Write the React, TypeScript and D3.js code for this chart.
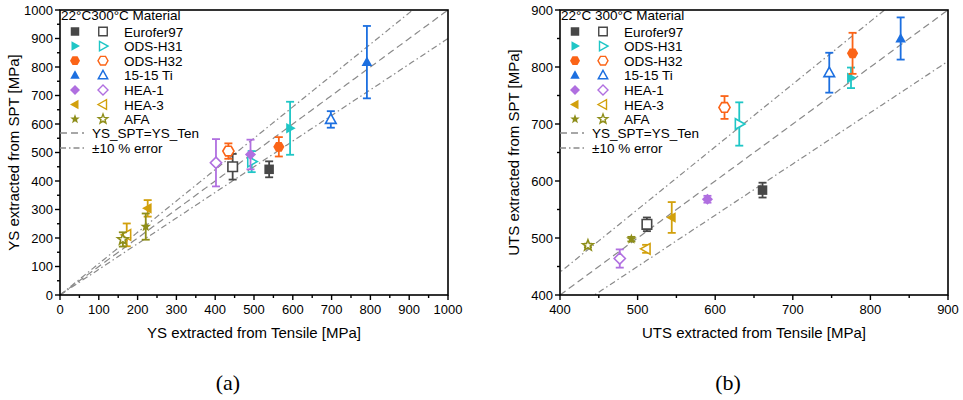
import React from "react";
import * as d3 from "d3";

const materials = ["Eurofer97", "ODS-H31", "ODS-H32", "15-15 Ti", "HEA-1", "HEA-3", "AFA"];
const colors = ["#474747", "#1fc6c6", "#fb6417", "#1c6fe0", "#b06fe0", "#d2a00c", "#8e8e1a"];
const shapes = ["square", "right", "hex", "up", "diamond", "left", "star"];

// YS panel (a)
const ysTen22 = [539, 593, 564, 791, 491, 226, 221];
const ysSpt22 = [441, 585, 520, 817, 493, 304, 240];
const ysErr22 = [28, 93, 34, 127, 52, 29, 46];
const ysTen300 = [445, 494, 434, 698, 402, 172, 162];
const ysSpt300 = [450, 468, 505, 616, 464, 211, 195];
const ysErr300 = [45, 37, 27, 29, 83, 40, 25];

// UTS panel (b)
const utsTen22 = [661, 775, 777, 839, 590, 544, 492];
const utsSpt22 = [584, 781, 824, 850, 568, 536, 498];
const utsErr22 = [13, 18, 36, 37, 6, 27, 4];
const utsTen300 = [512, 631, 612, 747, 477, 511, 436];
const utsSpt300 = [524, 700, 729, 790, 464, 481, 487];
const utsErr300 = [12, 38, 20, 35, 16, 7, 3];

const ysTicks = d3.range(0, 1001, 100);
const utsTicks = d3.range(400, 901, 100);

const font = "'Liberation Sans', Arial, sans-serif";

function markerPath(shape: string, r: number) {
  const pts = (arr: number[][]) => "M" + arr.map((p) => p.join(",")).join("L") + "Z";
  switch (shape) {
    case "square": {
      const s = r * 0.85;
      return pts([[-s, -s], [s, -s], [s, s], [-s, s]]);
    }
    case "up":
      return pts([[0, -r], [r * 0.95, r * 0.7], [-r * 0.95, r * 0.7]]);
    case "right":
      return pts([[r, 0], [-r * 0.7, r * 0.95], [-r * 0.7, -r * 0.95]]);
    case "left":
      return pts([[-r, 0], [r * 0.7, -r * 0.95], [r * 0.7, r * 0.95]]);
    case "diamond":
      return pts([[0, -r], [r, 0], [0, r], [-r, 0]]);
    case "hex":
      return pts(d3.range(6).map((i) => {
        const a = (Math.PI / 3) * i;
        return [r * Math.cos(a), r * Math.sin(a)];
      }));
    case "star":
      return pts(d3.range(10).map((i) => {
        const a = (Math.PI / 5) * i - Math.PI / 2;
        const rr = i % 2 === 0 ? r : r * 0.42;
        return [rr * Math.cos(a), rr * Math.sin(a)];
      }));
  }
  return "";
}

type PanelProps = {
  left: number;
  right: number;
  top: number;
  bottom: number;
  domain: [number, number];
  ticks: number[];
  ten22: number[];
  spt22: number[];
  err22: number[];
  ten300: number[];
  spt300: number[];
  err300: number[];
  xTitle: string;
  yTitle: string;
  header: string;
  caption: string;
  id: string;
};

function Panel(p: PanelProps) {
  const x = d3.scaleLinear(p.domain, [p.left, p.right]);
  const y = d3.scaleLinear(p.domain, [p.bottom, p.top]);
  const minor = d3.range(p.domain[0] + 50, p.domain[1], 100);
  const lineX = d3.range(0, 1001, 5);
  const ref = (k: number) => d3.line<number>().x((v) => x(v)).y((v) => y(v * k))(lineX) || "";
  const clipId = "clip-" + p.id;
  const lx = p.left;

  const points = (ten: number[], spt: number[], err: number[], open: boolean) =>
    materials.map((m, i) => {
      const cx = x(ten[i]);
      const cy = y(spt[i]);
      const y1 = y(spt[i] + err[i]);
      const y2 = y(spt[i] - err[i]);
      return (
        <g key={m + open} stroke={colors[i]} strokeWidth={1.8}>
          <line x1={cx} x2={cx} y1={y1} y2={y2} />
          <line x1={cx - 4} x2={cx + 4} y1={y1} y2={y1} />
          <line x1={cx - 4} x2={cx + 4} y1={y2} y2={y2} />
          <path
            d={markerPath(shapes[i], 5.6)}
            transform={`translate(${cx},${cy})`}
            fill={open ? "#fff" : colors[i]}
            strokeWidth={open ? 1.6 : 0}
          />
        </g>
      );
    });

  return (
    <g>
      <defs>
        <clipPath id={clipId}>
          <rect x={p.left} y={p.top} width={p.right - p.left} height={p.bottom - p.top} />
        </clipPath>
      </defs>
      <g clipPath={`url(#${clipId})`} fill="none" stroke="#8a8a8a" strokeWidth={1.2}>
        <path d={ref(1)} strokeDasharray="7,4" />
        <path d={ref(1.1)} strokeDasharray="6,3,1.5,3" />
        <path d={ref(0.9)} strokeDasharray="6,3,1.5,3" />
      </g>
      {points(p.ten300, p.spt300, p.err300, true)}
      {points(p.ten22, p.spt22, p.err22, false)}

      {/* frame and ticks */}
      <rect x={p.left} y={p.top} width={p.right - p.left} height={p.bottom - p.top} fill="none" stroke="#000" strokeWidth={1.6} />
      <g stroke="#000" strokeWidth={1.4}>
        {p.ticks.map((t) => (
          <g key={"M" + t}>
            <line x1={x(t)} x2={x(t)} y1={p.bottom} y2={p.bottom + 5} />
            <line x1={p.left} x2={p.left - 5} y1={y(t)} y2={y(t)} />
          </g>
        ))}
        {minor.map((t) => (
          <g key={"m" + t}>
            <line x1={x(t)} x2={x(t)} y1={p.bottom} y2={p.bottom + 3} />
            <line x1={p.left} x2={p.left - 3} y1={y(t)} y2={y(t)} />
          </g>
        ))}
      </g>
      <g fontFamily={font} fontSize={13} fill="#000">
        {p.ticks.map((t) => (
          <text key={"x" + t} x={x(t)} y={p.bottom + 19} textAnchor="middle">{t}</text>
        ))}
        {p.ticks.map((t) => (
          <text key={"y" + t} x={p.left - 7} y={y(t) + 4.5} textAnchor="end">{t}</text>
        ))}
      </g>
      <text x={(p.left + p.right) / 2} y={p.bottom + 43} textAnchor="middle" fontFamily={font} fontSize={15}>
        {p.xTitle}
      </text>
      <text
        transform={`translate(${p.left - 41},${(p.top + p.bottom) / 2}) rotate(-90)`}
        textAnchor="middle"
        fontFamily={font}
        fontSize={15}
      >
        {p.yTitle}
      </text>

      {/* legend */}
      <g fontFamily={font} fontSize={13.5}>
        <text x={lx + 1} y={p.top + 10}>{p.header}</text>
        {materials.map((m, i) => {
          const ry = p.top + 21.5 + i * 14.6;
          return (
            <g key={"lg" + m}>
              <path d={markerPath(shapes[i], 5)} transform={`translate(${lx + 15},${ry})`} fill={colors[i]} />
              <path
                d={markerPath(shapes[i], 5)}
                transform={`translate(${lx + 43},${ry})`}
                fill="#fff"
                stroke={colors[i]}
                strokeWidth={1.4}
              />
              <text x={lx + 64} y={ry + 5}>{m}</text>
            </g>
          );
        })}
        <line x1={lx} x2={lx + 24} y1={p.top + 123} y2={p.top + 123} stroke="#8a8a8a" strokeWidth={1.4} strokeDasharray="7,4" />
        <text x={lx + 32} y={p.top + 128}>YS_SPT=YS_Ten</text>
        <line x1={lx} x2={lx + 26} y1={p.top + 138} y2={p.top + 138} stroke="#8a8a8a" strokeWidth={1.4} strokeDasharray="6,3,1.5,3" />
        <text x={lx + 32} y={p.top + 143}>±10 % error</text>
      </g>

      <text
        x={(p.left + p.right) / 2 - 26}
        y={390}
        textAnchor="middle"
        fontFamily="'Liberation Serif', 'Times New Roman', serif"
        fontSize={22}
      >
        {p.caption}
      </text>
    </g>
  );
}

export default function App() {
  return (
    <svg
      width={963}
      height={400}
      viewBox="0 0 963 400"
      style={{ position: "absolute", left: 0, top: 0, background: "#fff" }}
    >
      <rect width={963} height={400} fill="#fff" />
      <Panel
        id="a"
        left={60}
        right={448}
        top={10}
        bottom={295}
        domain={[0, 1000]}
        ticks={ysTicks}
        ten22={ysTen22}
        spt22={ysSpt22}
        err22={ysErr22}
        ten300={ysTen300}
        spt300={ysSpt300}
        err300={ysErr300}
        xTitle="YS extracted from Tensile [MPa]"
        yTitle="YS extracted from SPT [MPa]"
        header="22°C300°C Material"
        caption="(a)"
      />
      <Panel
        id="b"
        left={560}
        right={948}
        top={10}
        bottom={295}
        domain={[400, 900]}
        ticks={utsTicks}
        ten22={utsTen22}
        spt22={utsSpt22}
        err22={utsErr22}
        ten300={utsTen300}
        spt300={utsSpt300}
        err300={utsErr300}
        xTitle="UTS extracted from Tensile [MPa]"
        yTitle="UTS extracted from SPT [MPa]"
        header="22°C 300°C Material"
        caption="(b)"
      />
    </svg>
  );
}
